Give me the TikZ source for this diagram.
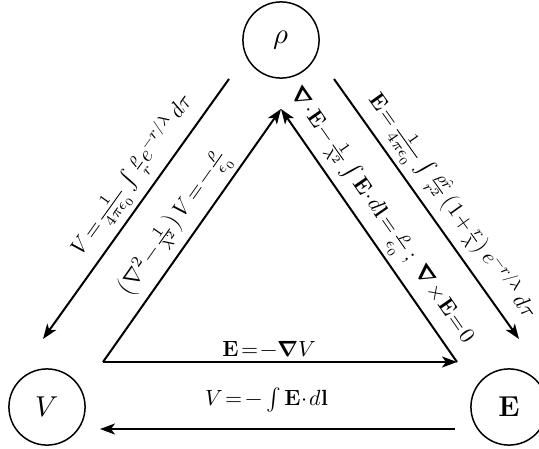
\documentclass[tikz,border=0pt]{standalone}
\usepackage{amsmath}
\usepackage{unicode-math}
\usetikzlibrary{arrows.meta}
\newcommand{\tightrel}{\thickmuskip=2mu\relax\medmuskip=1mu\relax}

\begin{document}
\begin{tikzpicture}[
        x=0.0176cm, y=-0.0176cm,
        field/.style={circle, draw=black, line width=0.75pt, minimum size=1.34cm, inner sep=0pt, font=\Large},
        link/.style={-{Stealth[length=7.5pt, width=5.5pt, inset=2pt]}, line width=1pt},
        rel/.style={font=\fontsize{11}{13}\selectfont, execute at begin node=\tightrel, inner sep=2pt}
    ]
    \clip (0,0) rectangle (539,448);

    % the three fields
    \node[field] (rho) at (281, 40) {$\rho$};
    \node[field] (V) at (47, 407) {$V$};
    \node[field] (E) at (509, 407) {$\mathbf{E}$};

    % corners of the inner triangle
    \coordinate (tl) at (103, 362);
    \coordinate (tr) at (457, 362);
    \coordinate (tt) at (281, 109);

    % ends of the outer arrows
    \coordinate (rv) at (229, 79);
    \coordinate (vr) at (43, 339);
    \coordinate (re) at (334, 79);
    \coordinate (er) at (519, 339);
    \coordinate (ev) at (455, 429);
    \coordinate (ve) at (100, 429);

    % outer ring
    \draw[link] (rv) -- node[rel, sloped, above, pos=0.42] {$V=\frac{1}{4\pi\epsilon_0}\int\frac{\rho}{\mathscr{r}}e^{-\mathscr{r}/\lambda}\,d\tau$} (vr);
    \draw[link] (re) -- node[rel, sloped, above, pos=0.54] {$\mathbf{E}=\frac{1}{4\pi\epsilon_0}\int\frac{\rho\hat{\mathscr{r}}}{\mathscr{r}^2}\left(1+\frac{\mathscr{r}}{\lambda}\right)e^{-\mathscr{r}/\lambda}\,d\tau$} (er);
    \draw[link] (ev) -- node[rel, above=6pt, pos=0.53] {$V=-\int\mathbf{E}\cdot d\mathbf{l}$} (ve);

    % inner triangle
    \draw[link] (tl) -- node[rel, sloped, above] {$\left(\nabla^2-\frac{1}{\lambda^2}\right)V=-\frac{\rho}{\epsilon_0}$} (tt);
    \draw[link] (tr) -- node[rel, sloped, above, pos=0.53] {$\symbf{\nabla}\cdot\mathbf{E}-\frac{1}{\lambda^2}\int\mathbf{E}\cdot d\mathbf{l}=\frac{\rho}{\epsilon_0}\,;\ \symbf{\nabla}\times\mathbf{E}=0$} (tt);
    \draw[link] (tl) -- node[rel, above, pos=0.47] {$\mathbf{E}=-\symbf{\nabla}V$} (tr);
\end{tikzpicture}
\end{document}
